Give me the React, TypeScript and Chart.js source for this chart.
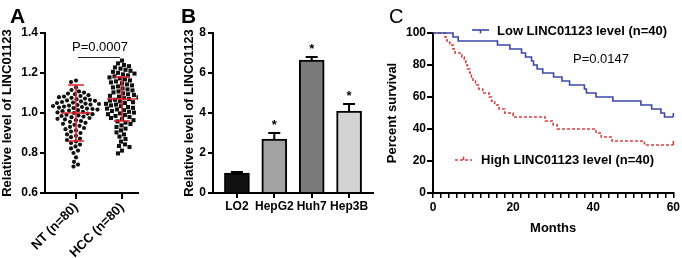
import React, { useEffect, useRef } from 'react';
import { Chart, registerables } from 'chart.js';

Chart.register(...registerables);

const FONT = '"Liberation Sans", Arial, Helvetica, sans-serif';
Chart.defaults.font.family = FONT;
Chart.defaults.color = '#000';

// ---------- Panel A data ----------
const groupLabels = ['NT (n=80)', 'HCC (n=80)'];
const ntValues = [
  1.162, 1.155, 1.128, 1.115, 1.108, 1.102, 1.097, 1.094, 1.089, 1.085,
  1.082, 1.079, 1.076, 1.072, 1.069, 1.066, 1.063, 1.061, 1.058, 1.055,
  1.052, 1.050, 1.047, 1.045, 1.042, 1.040, 1.037, 1.035, 1.032, 1.030,
  1.027, 1.025, 1.022, 1.020, 1.017, 1.014, 1.012, 1.009, 1.006, 1.003,
  1.000, 0.997, 0.994, 0.991, 0.988, 0.985, 0.982, 0.979, 0.975, 0.971,
  0.968, 0.964, 0.960, 0.956, 0.951, 0.946, 0.941, 0.936, 0.931, 0.925,
  0.919, 0.913, 0.907, 0.900, 0.893, 0.886, 0.879, 0.872, 0.865, 0.858,
  0.850, 0.842, 0.833, 0.823, 0.812, 0.800, 0.778, 0.756, 0.742, 0.732,
];
const hccValues = [
  1.262, 1.248, 1.240, 1.234, 1.228, 1.222, 1.216, 1.211, 1.206, 1.201,
  1.197, 1.193, 1.188, 1.183, 1.178, 1.173, 1.168, 1.163, 1.158, 1.153,
  1.148, 1.143, 1.138, 1.133, 1.128, 1.123, 1.118, 1.113, 1.108, 1.103,
  1.098, 1.094, 1.090, 1.086, 1.082, 1.078, 1.074, 1.070, 1.066, 1.062,
  1.058, 1.054, 1.050, 1.046, 1.042, 1.038, 1.034, 1.030, 1.026, 1.022,
  1.018, 1.014, 1.010, 1.006, 1.002, 0.998, 0.994, 0.990, 0.985, 0.980,
  0.975, 0.970, 0.964, 0.958, 0.952, 0.945, 0.938, 0.930, 0.922, 0.913,
  0.903, 0.893, 0.882, 0.870, 0.857, 0.843, 0.835, 0.830, 0.812, 0.798,
];
const groupMeans = [1.0, 1.07];
const groupSDs = [0.14, 0.11];
const pTextA = 'P=0.0007';
const bracketLevelA = 1.28;

// ---------- Panel B data ----------
const cellLines = ['LO2', 'HepG2', 'Huh7', 'Hep3B'];
const cellValues = [1.0, 2.7, 6.65, 4.1];
const cellErrors = [0.05, 0.3, 0.15, 0.35];
const cellColors = ['#111111', '#a2a2a2', '#7a7a7a', '#d3d3d3'];
const cellMarks = ['', '*', '*', '*'];

// ---------- Panel C data ----------
const lowTimes = [0, 5, 6.3, 16.1, 19.2, 22.1, 23.1, 24.6, 25.1, 26, 27.4, 30.1, 32.2, 34.1, 37.8, 38.3, 40.7, 44.9, 51.9, 54.6, 56.9, 57.8, 60];
const lowSurvival = [100, 97.5, 95, 92.5, 90, 87.5, 85, 82.5, 80, 77.5, 75, 72.5, 70, 67.5, 65, 62.5, 60, 57.5, 55, 52.5, 50, 47.5, 47.5];
const highTimes = [0, 3, 3.5, 4.2, 5, 5.5, 7.2, 7.8, 8.2, 8.6, 9.2, 9.6, 10, 10.6, 11.4, 12.4, 14, 14.6, 15.4, 16.5, 17.9, 20, 28, 30, 31, 40.7, 42, 44.7, 52.8, 60];
const highSurvival = [100, 97.5, 95, 92.5, 90, 87.5, 85, 82.5, 80, 77.5, 75, 72.5, 70, 67.5, 65, 62.5, 60, 57.5, 55, 52.5, 50, 47.5, 45, 42.5, 40, 37.5, 35, 32.5, 30, 30];
const lowCensored = [60];
const highCensored = [60];
const lowLabel = 'Low LINC01123 level (n=40)';
const highLabel = 'High LINC01123 level (n=40)';
const pTextC = 'P=0.0147';

const BLUE = '#3c47a6';
const RED = '#d8403e';
const ERR_RED = '#e3222b';

// beeswarm layout (horizontal spreading of dots by value, pixel-based)
const PX_PER_X_A = 46;
const PX_PER_Y_A = 200;
const DOT_A = 4.8;
function swarm(values: number[], center: number): number[] {
  const order = values.map((_, i) => i).sort((a, b) => values[b] - values[a]);
  const placed: { x: number; y: number }[] = [];
  const xs = new Array(values.length).fill(center);
  for (const i of order) {
    const y = values[i] * PX_PER_Y_A;
    for (let k = 0; k < 400; k++) {
      const off = (k % 2 === 1 ? -1 : 1) * Math.ceil(k / 2) * 0.5;
      if (placed.every((p) => Math.hypot(p.x - off, p.y - y) >= DOT_A)) {
        placed.push({ x: off, y });
        xs[i] = center + off / PX_PER_X_A;
        break;
      }
    }
  }
  return xs;
}

const tickFont = { family: FONT, size: 12, weight: 'bold' as const };
const titleFont = { family: FONT, size: 13, weight: 'bold' as const };

function stepValue(times: number[], surv: number[], t: number) {
  let v = surv[0];
  for (let i = 0; i < times.length; i++) if (times[i] <= t) v = surv[i];
  return v;
}

export default function App() {
  const refA = useRef<HTMLCanvasElement>(null);
  const refB = useRef<HTMLCanvasElement>(null);
  const refC = useRef<HTMLCanvasElement>(null);

  useEffect(() => {
    const ntX = swarm(ntValues, 0);
    const hccX = swarm(hccValues, 1);
    const errPluginA = {
      id: 'errA',
      afterDatasetsDraw(chart: any) {
        const { ctx, scales } = chart;
        const x = scales.x;
        const y = scales.y;
        ctx.save();
        ctx.strokeStyle = ERR_RED;
        ctx.lineWidth = 1.6;
        groupMeans.forEach((m, i) => {
          const cx = x.getPixelForValue(i);
          const ym = y.getPixelForValue(m);
          const yt = y.getPixelForValue(m + groupSDs[i]);
          const yb = y.getPixelForValue(m - groupSDs[i]);
          ctx.beginPath();
          ctx.moveTo(cx - 15, ym); ctx.lineTo(cx + 15, ym);
          ctx.moveTo(cx, yt); ctx.lineTo(cx, yb);
          ctx.moveTo(cx - 8, yt); ctx.lineTo(cx + 8, yt);
          ctx.moveTo(cx - 8, yb); ctx.lineTo(cx + 8, yb);
          ctx.stroke();
        });
        ctx.strokeStyle = '#222';
        ctx.lineWidth = 1;
        const by = Math.round(y.getPixelForValue(bracketLevelA)) + 0.5;
        ctx.beginPath();
        ctx.moveTo(x.getPixelForValue(0) + 2, by);
        ctx.lineTo(x.getPixelForValue(1) - 2, by);
        ctx.stroke();
        ctx.restore();
      },
    };
    const chartA = new Chart(refA.current as HTMLCanvasElement, {
      type: 'scatter',
      data: {
        datasets: [
          { data: ntValues.map((v, i) => ({ x: ntX[i], y: v })), pointRadius: 2.1, pointStyle: 'circle', backgroundColor: '#111', borderWidth: 0 },
          { data: hccValues.map((v, i) => ({ x: hccX[i], y: v })), pointRadius: 2.9, pointStyle: 'rect', backgroundColor: '#111', borderWidth: 0 },
        ],
      },
      options: {
        responsive: false,
        animation: false,
        events: [],
        layout: { padding: { top: 33, right: 42, left: 0, bottom: 0 } },
        plugins: { legend: { display: false }, tooltip: { enabled: false } },
        scales: {
          x: {
            type: 'linear', min: -0.674, max: 1.348,
            afterBuildTicks: (s: any) => { s.ticks = groupLabels.map((_, i) => ({ value: i })); },
            afterFit: (s: any) => { s.height = 65; },
            ticks: { autoSkip: false, minRotation: 45, maxRotation: 45, padding: 1, color: '#000', font: { family: FONT, size: 13, weight: 'bold' }, callback: (v: any) => groupLabels[v] ?? '' },
            grid: { drawOnChartArea: false, color: '#000', tickLength: 6, lineWidth: 2 },
            border: { color: '#000', width: 2 },
          },
          y: {
            min: 0.6, max: 1.4,
            afterFit: (s: any) => { s.width = 45; },
            ticks: { stepSize: 0.2, padding: 2, color: '#000', font: tickFont, callback: (v: any) => Number(v).toFixed(1) },
            grid: { drawOnChartArea: false, color: '#000', tickLength: 5, lineWidth: 2 },
            border: { color: '#000', width: 2 },
            title: { display: true, text: 'Relative level of LINC01123', color: '#000', font: titleFont, padding: { top: 0, bottom: 0 } },
          },
        },
      } as any,
      plugins: [errPluginA],
    });

    const errPluginB = {
      id: 'errB',
      afterDatasetsDraw(chart: any) {
        const { ctx, scales } = chart;
        const x = scales.x;
        const y = scales.y;
        ctx.save();
        ctx.strokeStyle = '#000';
        ctx.lineWidth = 2;
        ctx.fillStyle = '#000';
        ctx.font = `bold 13px ${FONT}`;
        ctx.textAlign = 'center';
        ctx.textBaseline = 'alphabetic';
        cellValues.forEach((v, i) => {
          const cx = x.getPixelForValue(i);
          const yb = y.getPixelForValue(v);
          const yt = y.getPixelForValue(v + cellErrors[i]);
          ctx.beginPath();
          ctx.moveTo(cx, yb); ctx.lineTo(cx, yt);
          ctx.moveTo(cx - 6, yt); ctx.lineTo(cx + 6, yt);
          ctx.stroke();
          if (cellMarks[i]) ctx.fillText(cellMarks[i], cx, yt - 4);
        });
        ctx.restore();
      },
    };
    const chartB = new Chart(refB.current as HTMLCanvasElement, {
      type: 'bar',
      data: {
        datasets: [
          {
            data: cellValues.map((v, i) => ({ x: i, y: v })),
            backgroundColor: cellColors,
            borderColor: '#000',
            borderWidth: 2,
            borderSkipped: 'bottom',
            barThickness: 25,
          },
        ],
      },
      options: {
        responsive: false,
        animation: false,
        events: [],
        layout: { padding: { top: 33, right: 7, left: 0, bottom: 0 } },
        plugins: { legend: { display: false }, tooltip: { enabled: false } },
        scales: {
          x: {
            type: 'linear', min: -0.64, max: 3.64, offset: false,
            afterBuildTicks: (s: any) => { s.ticks = cellLines.map((_, i) => ({ value: i })); },
            afterFit: (s: any) => { s.height = 65; },
            ticks: { autoSkip: false, maxRotation: 0, padding: 1, color: '#000', font: { family: FONT, size: 12, weight: 'bold' }, callback: (v: any) => cellLines[v] ?? '' },
            grid: { drawOnChartArea: false, offset: false, color: '#000', tickLength: 5, lineWidth: 2 },
            border: { color: '#000', width: 2 },
          },
          y: {
            min: 0, max: 8,
            afterFit: (s: any) => { s.width = 33; },
            ticks: { stepSize: 2, padding: 2, color: '#000', font: tickFont },
            grid: { drawOnChartArea: false, color: '#000', tickLength: 5, lineWidth: 2 },
            border: { color: '#000', width: 2 },
            title: { display: true, text: 'Relative level of LINC01123', color: '#000', font: titleFont, padding: { top: 2, bottom: 0 } },
          },
        },
      } as any,
      plugins: [errPluginB],
    });

    const censorPlugin = {
      id: 'censor',
      afterDatasetsDraw(chart: any) {
        const { ctx, scales } = chart;
        const x = scales.x;
        const y = scales.y;
        ctx.save();
        ctx.lineWidth = 1.6;
        const draw = (times: number[], surv: number[], cens: number[], color: string) => {
          ctx.strokeStyle = color;
          cens.forEach((t) => {
            const px = x.getPixelForValue(t);
            const py = y.getPixelForValue(stepValue(times, surv, t));
            ctx.beginPath();
            ctx.moveTo(px, py);
            ctx.lineTo(px, py - 4);
            ctx.stroke();
          });
        };
        draw(lowTimes, lowSurvival, lowCensored, BLUE);
        draw(highTimes, highSurvival, highCensored, RED);
        ctx.restore();
      },
    };
    const chartC = new Chart(refC.current as HTMLCanvasElement, {
      type: 'line',
      data: {
        datasets: [
          { data: lowTimes.map((t, i) => ({ x: t, y: lowSurvival[i] })), borderColor: BLUE, borderWidth: 1.6, stepped: true, pointRadius: 0, fill: false, clip: false },
          { data: highTimes.map((t, i) => ({ x: t, y: highSurvival[i] })), borderColor: RED, borderWidth: 1.6, borderDash: [3, 2], stepped: true, pointRadius: 0, fill: false, clip: false },
        ],
      },
      options: {
        responsive: false,
        animation: false,
        events: [],
        layout: { padding: { top: 33, right: 8, left: 0, bottom: 0 } },
        plugins: { legend: { display: false }, tooltip: { enabled: false } },
        scales: {
          x: {
            type: 'linear', min: 0, max: 60,
            afterFit: (s: any) => { s.height = 65; },
            ticks: { stepSize: 2, autoSkip: false, maxRotation: 0, padding: 2, color: '#000', font: tickFont, callback: (v: any) => (Number(v) % 20 === 0 ? String(v) : '') },
            grid: { drawOnChartArea: false, color: '#000', tickLength: 5, lineWidth: 1.5 },
            border: { color: '#000', width: 2 },
            title: { display: true, text: 'Months', color: '#000', font: titleFont, padding: { top: 0, bottom: 22 } },
          },
          y: {
            min: 0, max: 100,
            afterFit: (s: any) => { s.width = 53; },
            ticks: { stepSize: 20, padding: 1, color: '#000', font: tickFont },
            grid: { drawOnChartArea: false, color: '#000', tickLength: 6, lineWidth: 2 },
            border: { color: '#000', width: 2 },
            title: { display: true, text: 'Percent survival', color: '#000', font: titleFont, padding: { top: 5, bottom: 0 } },
          },
        },
      } as any,
      plugins: [censorPlugin],
    });

    return () => {
      chartA.destroy();
      chartB.destroy();
      chartC.destroy();
    };
  }, []);

  const text = (s: string, left: number, top: number, size: number, weight: string | number, key: string) => (
    <div
      key={key}
      style={{ position: 'absolute', left, top, fontFamily: FONT, fontSize: size, fontWeight: weight as any, lineHeight: 1, whiteSpace: 'nowrap', color: '#000' }}
    >
      {s}
    </div>
  );

  return (
    <div style={{ position: 'absolute', left: 0, top: 0, width: 682, height: 258, background: '#fff', overflow: 'hidden' }}>
      <canvas ref={refA} width={180} height={258} style={{ position: 'absolute', left: 0, top: 0, width: 180, height: 258 }} />
      <canvas ref={refB} width={200} height={258} style={{ position: 'absolute', left: 180, top: 0, width: 200, height: 258 }} />
      <canvas ref={refC} width={302} height={258} style={{ position: 'absolute', left: 380, top: 0, width: 302, height: 258 }} />
      {text('A', 10, 5, 21, 'bold', 'la')}
      {text('B', 181, 5, 21, 'bold', 'lb')}
      {text('C', 389, 6, 20, 'normal', 'lc')}
      {text(pTextA, 72, 40, 13, 'normal', 'pa')}
      {text(pTextC, 573, 52, 13, 'normal', 'pc')}
      {text(lowLabel, 497, 24, 13, 'bold', 'll')}
      {text(highLabel, 481, 153, 13, 'bold', 'hl')}
      <svg width={682} height={258} style={{ position: 'absolute', left: 0, top: 0, pointerEvents: 'none' }}>
        <line x1={472} y1={30} x2={489} y2={30} stroke={BLUE} strokeWidth={1.6} />
        <line x1={480.5} y1={30} x2={480.5} y2={33.5} stroke={BLUE} strokeWidth={1.6} />
        <line x1={455} y1={160} x2={472} y2={160} stroke={RED} strokeWidth={1.6} strokeDasharray="3 2" />
        <line x1={463.5} y1={160} x2={463.5} y2={156.5} stroke={RED} strokeWidth={1.6} />
      </svg>
    </div>
  );
}
